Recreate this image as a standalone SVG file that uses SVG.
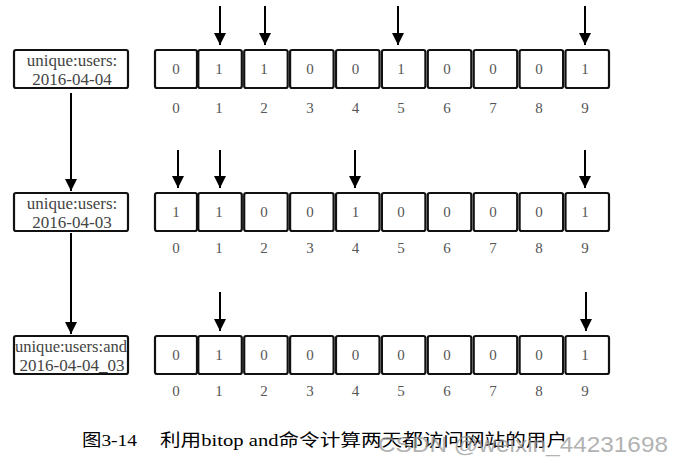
<svg xmlns="http://www.w3.org/2000/svg" width="686" height="461" viewBox="0 0 686 461">
<defs>
<marker id="ah2" viewBox="0 0 10 10" refX="10" refY="5" markerWidth="14" markerHeight="12" orient="auto" markerUnits="userSpaceOnUse">
<path d="M0,0 L10,5 L0,10 z" fill="#000"/>
</marker>
</defs>
<style>
.cell{fill:#fff;stroke:#111;stroke-width:2.2}
.lbox{fill:#fff;stroke:#111;stroke-width:2.2}
.v{font-family:"Liberation Serif",serif;font-size:15px;fill:#555;text-anchor:middle}
.i{font-family:"Liberation Serif",serif;font-size:15px;fill:#555;text-anchor:middle}
.k{font-family:"Liberation Serif",serif;font-size:17px;fill:#444;text-anchor:middle}
.arr{stroke:#000;stroke-width:2;fill:none;marker-end:url(#ah2)}
.cap{font-family:"Liberation Serif","Noto Sans CJK SC",serif;font-size:17px;fill:#000}
.wm{font-family:"Liberation Sans",sans-serif;font-size:22px;fill:#999;opacity:0.75}
</style>
<rect width="686" height="461" fill="#fff"/>

<g id="key1">
<rect class="lbox" x="14" y="50" width="114" height="38" rx="2"/>
<text class="k" x="72" y="66">unique:users:</text>
<text class="k" x="72" y="85">2016-04-04</text>
</g>
<g id="key2">
<rect class="lbox" x="14" y="193" width="114" height="38" rx="2"/>
<text class="k" x="72" y="209">unique:users:</text>
<text class="k" x="72" y="228">2016-04-03</text>
</g>
<g id="key3">
<rect class="lbox" x="14" y="336" width="114" height="38" rx="2"/>
<text class="k" x="71" y="352" textLength="112" lengthAdjust="spacingAndGlyphs">unique:users:and</text>
<text class="k" x="72" y="371">2016-04-04_03</text>
</g>

<g id="bitmap1">
<rect class="cell" x="155" y="50" width="42" height="38" rx="2"/><text class="v" x="176" y="74">0</text>
<rect class="cell" x="198.3" y="50" width="43.5" height="38" rx="2"/><text class="v" x="219" y="74">1</text>
<rect class="cell" x="244.2" y="50" width="43.5" height="38" rx="2"/><text class="v" x="264" y="74">1</text>
<rect class="cell" x="290.1" y="50" width="43.5" height="38" rx="2"/><text class="v" x="310" y="74">0</text>
<rect class="cell" x="336" y="50" width="43.5" height="38" rx="2"/><text class="v" x="355.5" y="74">0</text>
<rect class="cell" x="381.9" y="50" width="43.5" height="38" rx="2"/><text class="v" x="401" y="74">1</text>
<rect class="cell" x="427.8" y="50" width="43.5" height="38" rx="2"/><text class="v" x="447" y="74">0</text>
<rect class="cell" x="473.7" y="50" width="43.5" height="38" rx="2"/><text class="v" x="493" y="74">0</text>
<rect class="cell" x="519.6" y="50" width="43.5" height="38" rx="2"/><text class="v" x="539" y="74">0</text>
<rect class="cell" x="565.5" y="50" width="43.5" height="38" rx="2"/><text class="v" x="585" y="74">1</text>
<text class="i" x="176" y="113">0</text><text class="i" x="219" y="113">1</text><text class="i" x="264" y="113">2</text><text class="i" x="310" y="113">3</text><text class="i" x="355.5" y="113">4</text><text class="i" x="401" y="113">5</text><text class="i" x="447" y="113">6</text><text class="i" x="493" y="113">7</text><text class="i" x="539" y="113">8</text><text class="i" x="585" y="113">9</text>
</g>

<g id="bitmap2">
<rect class="cell" x="155" y="193" width="42" height="38" rx="2"/><text class="v" x="176" y="217">1</text>
<rect class="cell" x="198.3" y="193" width="43.5" height="38" rx="2"/><text class="v" x="219" y="217">1</text>
<rect class="cell" x="244.2" y="193" width="43.5" height="38" rx="2"/><text class="v" x="264" y="217">0</text>
<rect class="cell" x="290.1" y="193" width="43.5" height="38" rx="2"/><text class="v" x="310" y="217">0</text>
<rect class="cell" x="336" y="193" width="43.5" height="38" rx="2"/><text class="v" x="355.5" y="217">1</text>
<rect class="cell" x="381.9" y="193" width="43.5" height="38" rx="2"/><text class="v" x="401" y="217">0</text>
<rect class="cell" x="427.8" y="193" width="43.5" height="38" rx="2"/><text class="v" x="447" y="217">0</text>
<rect class="cell" x="473.7" y="193" width="43.5" height="38" rx="2"/><text class="v" x="493" y="217">0</text>
<rect class="cell" x="519.6" y="193" width="43.5" height="38" rx="2"/><text class="v" x="539" y="217">0</text>
<rect class="cell" x="565.5" y="193" width="43.5" height="38" rx="2"/><text class="v" x="585" y="217">1</text>
<text class="i" x="176" y="253">0</text><text class="i" x="219" y="253">1</text><text class="i" x="264" y="253">2</text><text class="i" x="310" y="253">3</text><text class="i" x="355.5" y="253">4</text><text class="i" x="401" y="253">5</text><text class="i" x="447" y="253">6</text><text class="i" x="493" y="253">7</text><text class="i" x="539" y="253">8</text><text class="i" x="585" y="253">9</text>
</g>

<g id="bitmap3">
<rect class="cell" x="155" y="336" width="42" height="38" rx="2"/><text class="v" x="176" y="360">0</text>
<rect class="cell" x="198.3" y="336" width="43.5" height="38" rx="2"/><text class="v" x="219" y="360">1</text>
<rect class="cell" x="244.2" y="336" width="43.5" height="38" rx="2"/><text class="v" x="264" y="360">0</text>
<rect class="cell" x="290.1" y="336" width="43.5" height="38" rx="2"/><text class="v" x="310" y="360">0</text>
<rect class="cell" x="336" y="336" width="43.5" height="38" rx="2"/><text class="v" x="355.5" y="360">0</text>
<rect class="cell" x="381.9" y="336" width="43.5" height="38" rx="2"/><text class="v" x="401" y="360">0</text>
<rect class="cell" x="427.8" y="336" width="43.5" height="38" rx="2"/><text class="v" x="447" y="360">0</text>
<rect class="cell" x="473.7" y="336" width="43.5" height="38" rx="2"/><text class="v" x="493" y="360">0</text>
<rect class="cell" x="519.6" y="336" width="43.5" height="38" rx="2"/><text class="v" x="539" y="360">0</text>
<rect class="cell" x="565.5" y="336" width="43.5" height="38" rx="2"/><text class="v" x="585" y="360">1</text>
<text class="i" x="176" y="396">0</text><text class="i" x="219" y="396">1</text><text class="i" x="264" y="396">2</text><text class="i" x="310" y="396">3</text><text class="i" x="355.5" y="396">4</text><text class="i" x="401" y="396">5</text><text class="i" x="447" y="396">6</text><text class="i" x="493" y="396">7</text><text class="i" x="539" y="396">8</text><text class="i" x="585" y="396">9</text>
</g>

<g id="connectors">
<line class="arr" x1="71" y1="93" x2="71" y2="191"/>
<line class="arr" x1="71" y1="233" x2="71" y2="334"/>
<line class="arr" x1="220" y1="6" x2="220" y2="45"/>
<line class="arr" x1="265" y1="6" x2="265" y2="45"/>
<line class="arr" x1="398" y1="6" x2="398" y2="45"/>
<line class="arr" x1="585" y1="6" x2="585" y2="45"/>
<line class="arr" x1="178" y1="150" x2="178" y2="188"/>
<line class="arr" x1="220" y1="150" x2="220" y2="188"/>
<line class="arr" x1="355" y1="150" x2="355" y2="188"/>
<line class="arr" x1="585" y1="150" x2="585" y2="188"/>
<line class="arr" x1="220" y1="292" x2="220" y2="331"/>
<line class="arr" x1="586" y1="292" x2="586" y2="331"/>
</g>

<text class="cap" x="82" y="446" textLength="55" lengthAdjust="spacingAndGlyphs">图3-14</text>
<text class="cap" x="160" y="446" textLength="407" lengthAdjust="spacingAndGlyphs">利用bitop and命令计算两天都访问网站的用户</text>
<text class="wm" x="378" y="452" textLength="290" lengthAdjust="spacingAndGlyphs">CSDN @weixin_44231698</text>
</svg>
